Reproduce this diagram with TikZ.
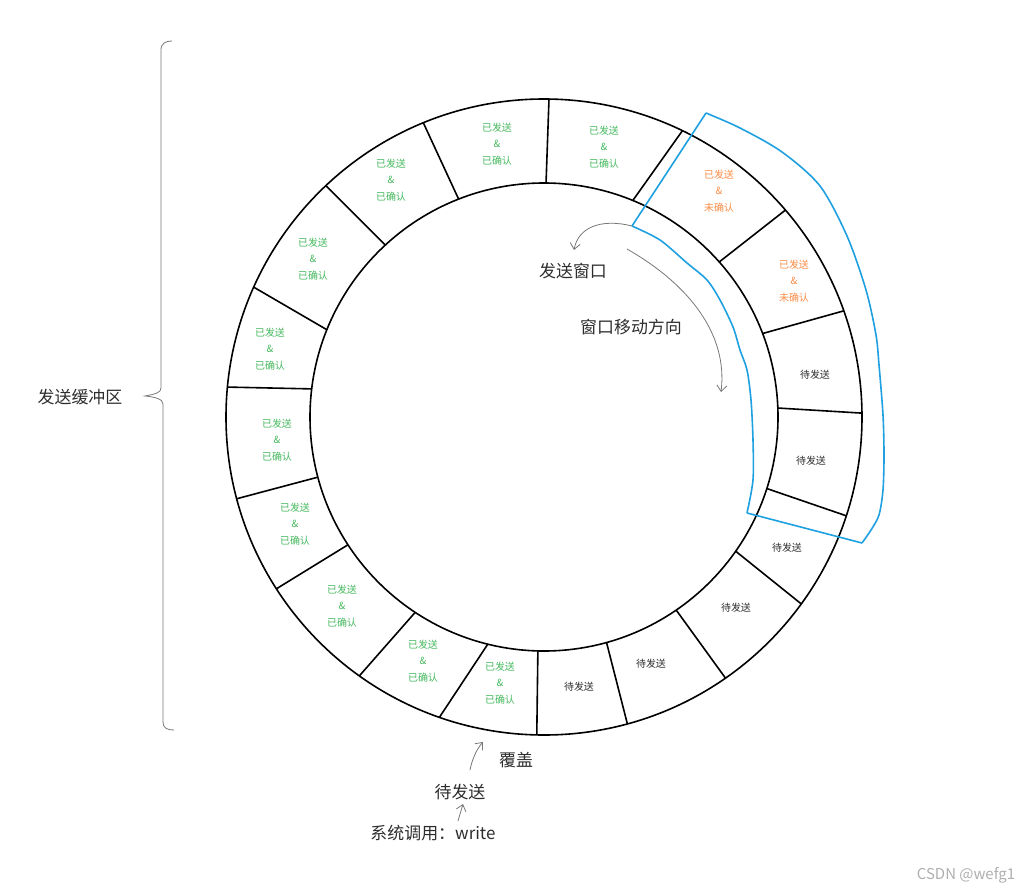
\documentclass[tikz,border=0pt]{standalone}
\usepackage{fontspec}
\setmainfont{Noto Sans CJK SC}
\usetikzlibrary{arrows.meta}
\definecolor{okgreen}{RGB}{70,185,95}
\definecolor{unack}{RGB}{250,140,70}
\definecolor{winblue}{RGB}{30,160,225}
\definecolor{txt}{RGB}{45,45,45}
\definecolor{hand}{RGB}{120,120,120}
\definecolor{wm}{RGB}{175,175,175}
\begin{document}
\begin{tikzpicture}[x=1bp,y=-1bp,
  ring/.style={line width=1.6bp,draw=black},
  acked/.style={text=okgreen,font=\fontsize{10}{16.5}\selectfont,align=center,inner sep=0pt},
  sentun/.style={acked,text=unack},
  pending/.style={text=txt,font=\fontsize{10}{12}\selectfont,inner sep=0pt},
  biglabel/.style={text=txt,font=\fontsize{17}{20}\selectfont,inner sep=0pt},
  win/.style={draw=winblue,line width=1.6bp,line join=round},
  handline/.style={draw=hand,line width=0.8bp},
  handarrow/.style={handline,-{Straight Barb[length=6bp,width=10bp]}},
]
\fill[white] (0,0) rectangle (1032,894);
\useasboundingbox (0,0) rectangle (1032,894);

% ring buffer
\coordinate (c) at (544,417);
\draw[ring] (c) circle[radius=318];
\draw[ring] (c) circle[radius=234];
\foreach \a/\b in {111.4/112.3, 89.5/89.1, 67.7/64.2, 41.5/40.6, 20.9/19.5,
  2.2/0.7, -17.8/-18.1, -35/-36, -55.6/-55.2, -74.5/-74.8, -91.5/-91.3,
  -103.9/-109.2, -123.4/-125.5, -146.9/-147.3, -165.1/-165.1, 173.1/174.6,
  158.1/155.9, 132.7/133.3}
  \draw[ring] ({544+234*cos(\a)},{417-234*sin(\a)}) -- ({544+318*cos(\b)},{417-318*sin(\b)});

% cells
\node[acked] (s1) at (497,144) {已发送\\\&\\已确认};
\node[acked] (s2) at (604,147) {已发送\\\&\\已确认};
\node[sentun] (s3) at (719,191) {已发送\\\&\\未确认};
\node[sentun] (s4) at (794,281) {已发送\\\&\\未确认};
\node[pending] (p5) at (815,375) {待发送};
\node[pending] (p6) at (811,461) {待发送};
\node[pending] (p7) at (787,548) {待发送};
\node[pending] (p8) at (736,608) {待发送};
\node[pending] (p9) at (651,664) {待发送};
\node[pending] (p10) at (579,687) {待发送};
\node[acked] (s11) at (500,683) {已发送\\\&\\已确认};
\node[acked] (s12) at (423,661) {已发送\\\&\\已确认};
\node[acked] (s13) at (342,606) {已发送\\\&\\已确认};
\node[acked] (s14) at (295,524) {已发送\\\&\\已确认};
\node[acked] (s15) at (277,440) {已发送\\\&\\已确认};
\node[acked] (s16) at (270,349) {已发送\\\&\\已确认};
\node[acked] (s17) at (313,259) {已发送\\\&\\已确认};
\node[acked] (s18) at (391,180) {已发送\\\&\\已确认};

% send window outline
\coordinate (wtop) at (706,113);
\coordinate (wc) at (632,226);
\coordinate (wbi) at (747,513);
\coordinate (wbo) at (862,543);
\draw[win] (wtop) -- (wc);
\draw[win] plot[smooth] coordinates {(632,226) (660,240) (687,263) (707,280) (720,300) (733,327) (740,350) (747,370) (751,400) (753,440) (753,480) (747,513)};
\draw[win] (wbi) -- (wbo);
\draw[win] plot[smooth,tension=0.5] coordinates {(862,543) (871,530) (879,515) (883,490) (884,455) (883,415) (879,365) (876,335) (866,290) (847,236) (820,186) (782,152) (740,128) (706,113)};

% labels and hand arrows
\node[biglabel] (lwin) at (573,271) {发送窗口};
\coordinate (wtip) at (574,250);
\draw[handarrow] (wc) .. controls (600,218) and (578,228) .. (wtip);

\node[biglabel] (lmove) at (631,327) {窗口移动方向};
\coordinate (ms) at (627,249);
\coordinate (me) at (721,392);
\draw[handarrow] (ms) .. controls (690,285) and (728,335) .. (me);

% left brace
\node[biglabel] (buf) at (80,397) {发送缓冲区};
\coordinate (btip) at (145,396);
\draw[handline] (172,41) .. controls (166,41) and (161,43) .. (161,50) -- (161,388)
  .. controls (161,393) and (155,394) .. (btip)
  .. controls (155,397) and (163,399) .. (163,404) -- (163,722)
  .. controls (163,728) and (167,730) .. (174,730);

% bottom
\node[biglabel] (lcov) at (516,760) {覆盖};
\node[biglabel] (lpend) at (460,792) {待发送};
\node[biglabel] (lsys) at (433,833) {系统调用：write};
\coordinate (a1s) at (470,770);
\coordinate (a1e) at (483,742);
\draw[handarrow] (a1s) .. controls (472,760) and (476,750) .. (a1e);
\coordinate (a2s) at (458,821);
\coordinate (a2e) at (463,804);
\draw[handarrow] (a2s) -- (a2e);

\node[text=wm,font=\fontsize{15}{18}\selectfont,inner sep=0pt] (wmk) at (966,875) {CSDN @wefg1};
\end{tikzpicture}
\end{document}
